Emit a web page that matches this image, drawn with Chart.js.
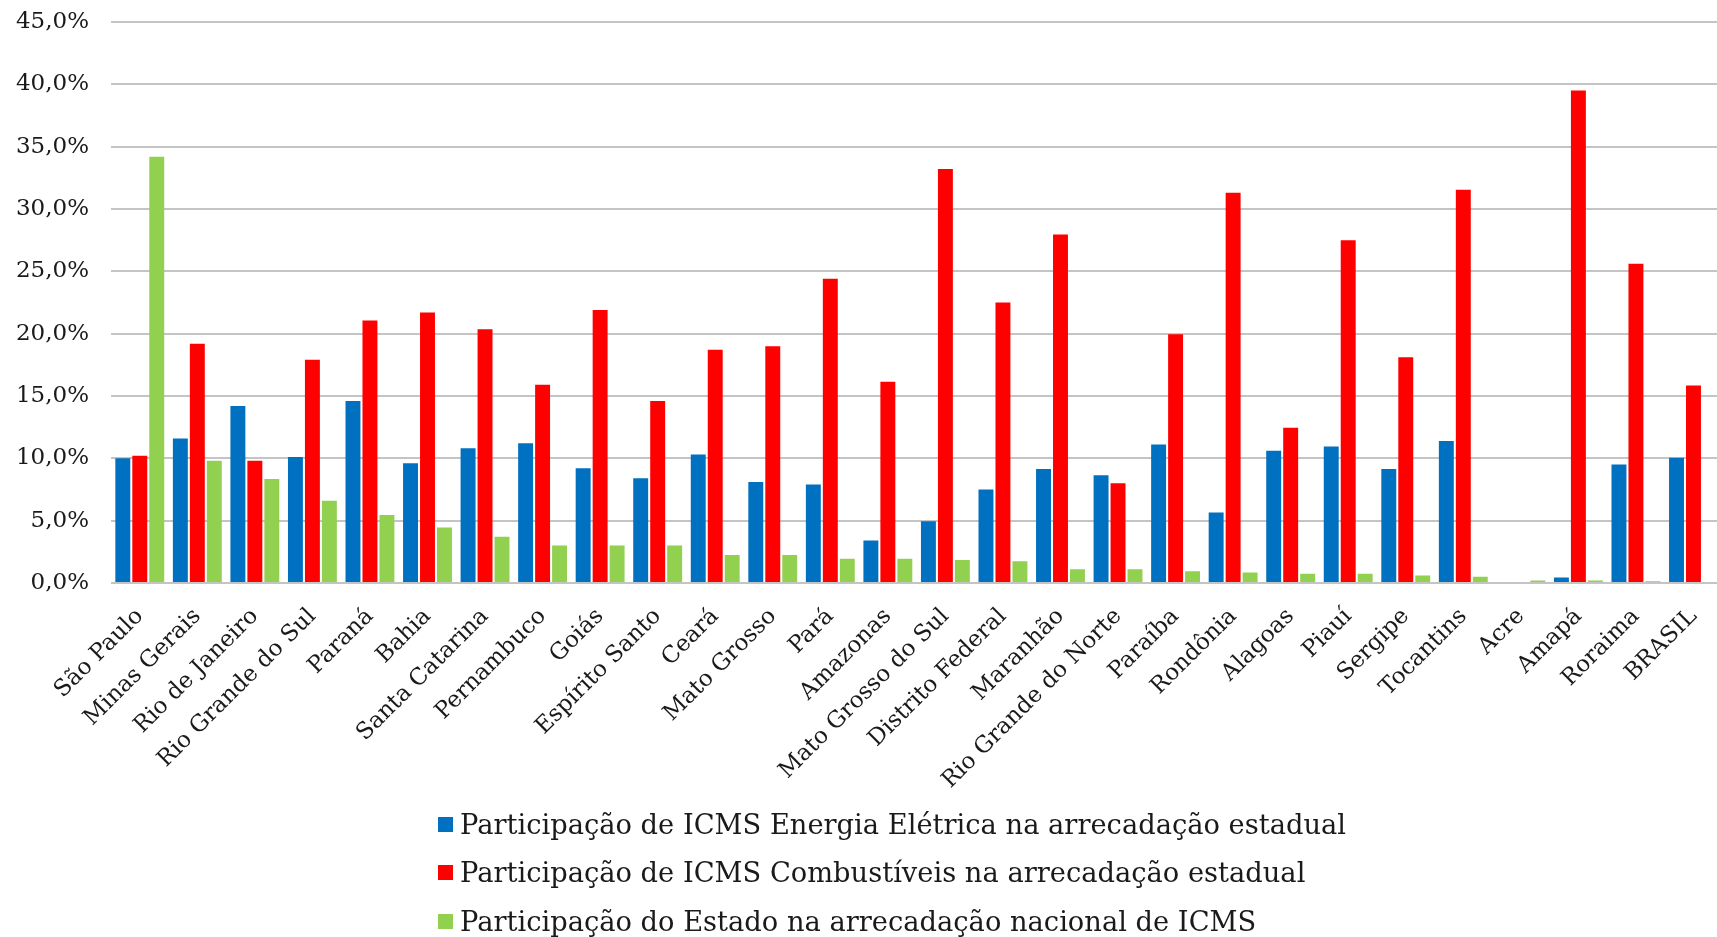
<!DOCTYPE html>
<html>
<head>
<meta charset="utf-8">
<script src="https://cdn.jsdelivr.net/npm/chart.js@4"></script>
<style>
  html, body { margin: 0; padding: 0; background: #fff; overflow: hidden; }
  #wrap { position: relative; width: 1717px; height: 937px; overflow: hidden; }
  #legend { position: absolute; left: 438px; top: 800px; font-family: 'DejaVu Serif', serif; font-size: 27.3px; color: #1a1a1a; }
  #legend div { display: flex; align-items: center; height: 48.5px; white-space: nowrap; }
  #legend span.box { display: inline-block; width: 15px; height: 15px; margin-right: 7px; }
</style>
</head>
<body>
<div id="wrap">
  <!-- plot runs a little past the right edge, last group sits against it -->
  <canvas id="icmsChart" width="1725" height="937"></canvas>
  <div id="legend"></div>
</div>
<script>
const estados = [
  'São Paulo', 'Minas Gerais', 'Rio de Janeiro', 'Rio Grande do Sul', 'Paraná', 'Bahia',
  'Santa Catarina', 'Pernambuco', 'Goiás', 'Espírito Santo', 'Ceará', 'Mato Grosso', 'Pará',
  'Amazonas', 'Mato Grosso do Sul', 'Distrito Federal', 'Maranhão', 'Rio Grande do Norte',
  'Paraíba', 'Rondônia', 'Alagoas', 'Piauí', 'Sergipe', 'Tocantins', 'Acre', 'Amapá',
  'Roraima', 'BRASIL'
];

const energiaEletrica = [
  10.0, 11.6, 14.2, 10.1, 14.6, 9.6, 10.8, 11.2, 9.2, 8.4, 10.3, 8.1, 7.9,
  3.4, 4.95, 7.5, 9.15, 8.65, 11.1, 5.65, 10.6, 10.95, 9.15, 11.4, 0, 0.45,
  9.5, 10.05
];

const combustiveis = [
  10.2, 19.2, 9.8, 17.9, 21.05, 21.7, 20.35, 15.9, 21.9, 14.6, 18.7, 19.0, 24.4,
  16.15, 33.2, 22.5, 27.95, 8.0, 19.95, 31.3, 12.45, 27.5, 18.1, 31.55, 0, 39.5,
  25.6, 15.85
];

const participacaoNacional = [
  34.2, 9.8, 8.35, 6.6, 5.45, 4.45, 3.7, 3.0, 3.0, 3.0, 2.25, 2.25, 1.95,
  1.95, 1.85, 1.75, 1.1, 1.1, 0.95, 0.85, 0.75, 0.75, 0.6, 0.5, 0.2, 0.2,
  0.15, null
];

const yTicks = [0, 5, 10, 15, 20, 25, 30, 35, 40, 45];

const series = [
  { label: 'Participação de ICMS Energia Elétrica na arrecadação estadual', data: energiaEletrica, color: '#0070C0' },
  { label: 'Participação de ICMS Combustíveis na arrecadação estadual', data: combustiveis, color: '#FF0000' },
  { label: 'Participação do Estado na arrecadação nacional de ICMS', data: participacaoNacional, color: '#92D050' }
];

const serifFont = 'DejaVu Serif';

function pct(v) {
  return v.toFixed(1).replace('.', ',') + '%';
}

function buildLegend() {
  const legend = document.getElementById('legend');
  series.forEach(s => {
    const row = document.createElement('div');
    const box = document.createElement('span');
    box.className = 'box';
    box.style.background = s.color;
    row.appendChild(box);
    row.appendChild(document.createTextNode(s.label));
    legend.appendChild(row);
  });
}

function initChart() {
  const ctx = document.getElementById('icmsChart');
  new Chart(ctx, {
    type: 'bar',
    data: {
      labels: estados,
      datasets: series.map(s => ({
        label: s.label,
        data: s.data,
        backgroundColor: s.color,
        borderWidth: 0,
        categoryPercentage: 0.885,
        barPercentage: 0.88
      }))
    },
    options: {
      responsive: false,
      animation: false,
      layout: { padding: { top: 22, left: 0, right: 0, bottom: 0 } },
      plugins: {
        legend: { display: false },
        tooltip: { enabled: false }
      },
      scales: {
        x: {
          grid: { display: false },
          border: { display: false },
          ticks: {
            autoSkip: false,
            minRotation: 45,
            maxRotation: 45,
            padding: 12,
            color: '#1a1a1a',
            font: { family: serifFont, size: 23 }
          },
          afterFit(scale) { scale.height = 354; }
        },
        y: {
          min: 0,
          max: 45,
          afterBuildTicks(scale) { scale.ticks = yTicks.map(v => ({ value: v })); },
          ticks: {
            padding: 22,
            color: '#1a1a1a',
            font: { family: serifFont, size: 23 },
            callback: v => pct(v)
          },
          grid: { color: '#c4c4c4', lineWidth: 2, drawTicks: false },
          border: { display: false },
          afterFit(scale) {
            scale.width = 111;
            // the top tick label may overflow the plot; keep the plot edge fixed
            scale.paddingTop = 0;
            scale.paddingBottom = 0;
          }
        }
      }
    }
  });
}

buildLegend();
initChart();
</script>
</body>
</html>
